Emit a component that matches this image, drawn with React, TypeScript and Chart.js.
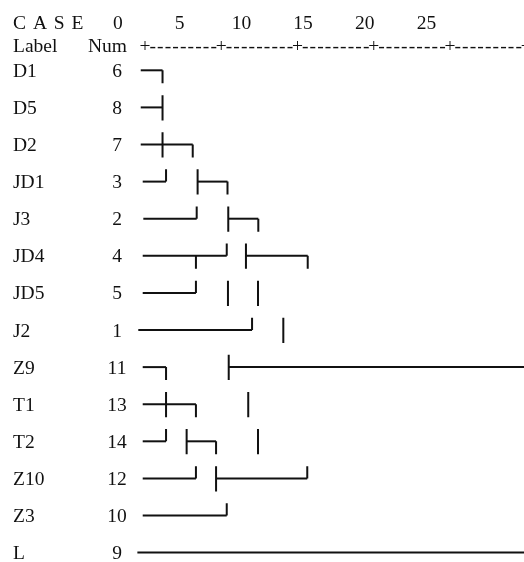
import React, { useEffect, useRef } from 'react';
import { Chart, registerables } from 'chart.js';

Chart.register(...registerables);

// Case labels and numbers, top to bottom
const caseLabels = ['D1', 'D5', 'D2', 'JD1', 'J3', 'JD4', 'JD5', 'J2', 'Z9', 'T1', 'T2', 'Z10', 'Z3', 'L'];
const caseNums = [6, 8, 7, 3, 2, 4, 5, 1, 11, 13, 14, 12, 10, 9];

// Rescaled distance tick labels
const scaleTicks = [0, 5, 10, 15, 20, 25];

// Horizontal strokes: [row, fromDistance, toDistance]
const hSegments: [number, number, number][] = [
  [0, -0.28, 1.15],
  [1, -0.28, 1.15],
  [2, -0.28, 3.13],
  [3, -0.15, 1.38], [3, 3.45, 5.41],
  [4, -0.11, 3.39], [4, 5.46, 7.43],
  [5, -0.15, 5.36], [5, 6.62, 10.67],
  [6, -0.15, 3.34],
  [7, -0.44, 7.02],
  [8, -0.15, 1.38], [8, 5.49, 26],
  [9, -0.15, 3.34],
  [10, -0.15, 1.38], [10, 2.73, 4.66],
  [11, -0.15, 3.34], [11, 4.66, 10.64],
  [12, -0.15, 5.36],
  [13, -0.5, 26],
];

// Vertical strokes: [distance, row, kind] kind: full | down | up
const vSegments: [number, number, string][] = [
  [1.15, 0, 'down'],
  [1.15, 1, 'full'],
  [1.15, 2, 'full'], [3.13, 2, 'down'],
  [1.38, 3, 'up'], [3.45, 3, 'full'], [5.41, 3, 'down'],
  [3.39, 4, 'up'], [5.46, 4, 'full'], [7.43, 4, 'down'],
  [3.34, 5, 'down'], [5.36, 5, 'up'], [6.62, 5, 'full'], [10.67, 5, 'down'],
  [3.34, 6, 'up'], [5.44, 6, 'full'], [7.41, 6, 'full'],
  [7.02, 7, 'up'], [9.07, 7, 'full'],
  [1.38, 8, 'down'], [5.49, 8, 'full'],
  [1.38, 9, 'full'], [3.34, 9, 'down'], [6.77, 9, 'full'],
  [1.38, 10, 'up'], [2.73, 10, 'full'], [4.66, 10, 'down'], [7.41, 10, 'full'],
  [3.34, 11, 'up'], [4.66, 11, 'full'], [10.64, 11, 'up'],
  [5.36, 12, 'up'],
];

const INK = '#111111';
const FONT = "19.5px 'Liberation Serif', 'Times New Roman', serif";
const TOP = -0.33;
const BOTTOM = 0.35;

const textPlugin = {
  id: 'dendroText',
  afterDraw(chart: any) {
    const ctx = chart.ctx as CanvasRenderingContext2D;
    const y = chart.scales.y;
    const x = chart.scales.x;
    const xh = chart.scales.xh;
    ctx.save();
    ctx.fillStyle = INK;
    ctx.font = FONT;
    ctx.textBaseline = 'alphabetic';

    const h1 = 29;
    const h2 = 52;
    ctx.textAlign = 'left';
    (ctx as any).letterSpacing = '1px';
    ctx.fillText('C A S E', 13, h1);
    (ctx as any).letterSpacing = '0px';
    ctx.fillText('Label', 13, h2);
    ctx.fillText('Num', 88, h2);
    ctx.textAlign = 'center';
    scaleTicks.forEach((t) => {
      ctx.fillText(String(t), xh.getPixelForValue(t), h1);
    });
    // ruler "+---------+"
    scaleTicks.forEach((t) => {
      ctx.fillText('+', x.getPixelForValue(t), h2);
      for (let k = 1; k <= 9; k++) {
        ctx.fillText('-', x.getPixelForValue(t + k * 0.5), h2);
      }
    });

    // rows
    caseLabels.forEach((lab, i) => {
      const py = y.getPixelForValue(i) + 6.5;
      ctx.textAlign = 'left';
      ctx.fillText(lab, 13, py);
      ctx.textAlign = 'center';
      ctx.fillText(String(caseNums[i]), 117, py);
    });
    ctx.restore();
  },
};

export default function App() {
  const ref = useRef<HTMLCanvasElement | null>(null);

  useEffect(() => {
    if (!ref.current) return;
    const base = { showLine: true, borderColor: INK, borderWidth: 2, pointRadius: 0, borderCapStyle: 'butt', xAxisID: 'x', yAxisID: 'y' };
    const datasets: any[] = [];
    hSegments.forEach(([r, a, b]) => {
      datasets.push({ ...base, data: [{ x: a, y: r }, { x: b, y: r }] });
    });
    vSegments.forEach(([d, r, kind]) => {
      const y1 = kind === 'down' ? r : r + TOP;
      const y2 = kind === 'up' ? r : r + BOTTOM;
      datasets.push({ ...base, data: [{ x: d, y: y1 }, { x: d, y: y2 }] });
    });

    const chart = new Chart(ref.current, {
      type: 'scatter',
      data: { datasets },
      options: {
        animation: false,
        responsive: false,
        events: [],
        layout: { padding: 0 },
        plugins: { legend: { display: false }, tooltip: { enabled: false } },
        scales: {
          x: { type: 'linear', display: false, min: -9.508, max: 24.852 },
          xh: { type: 'linear', display: false, min: -9.562, max: 32.9 },
          y: { type: 'linear', display: false, reverse: true, min: -1.895, max: 13.253 },
        },
      },
      plugins: [textPlugin],
    } as any);
    return () => chart.destroy();
  }, []);

  return (
    <div style={{ position: 'fixed', left: 0, top: 0, width: 524, height: 562, background: '#fff' }}>
      <canvas ref={ref} width={524} height={562} style={{ display: 'block' }} />
    </div>
  );
}
